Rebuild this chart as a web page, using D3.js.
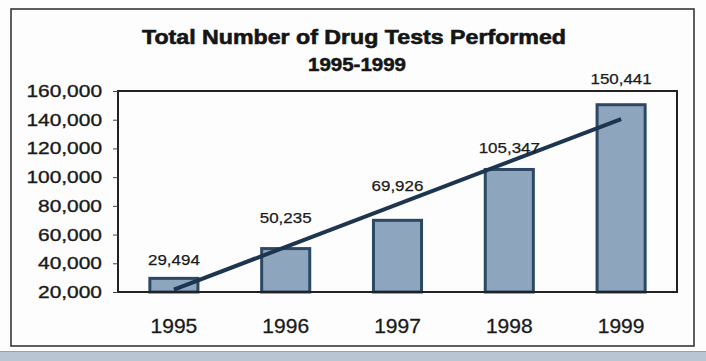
<!DOCTYPE html>
<html>
<head>
<meta charset="utf-8">
<script src="https://cdn.jsdelivr.net/npm/d3@7"></script>
<style>
  html, body { margin: 0; padding: 0; background: #ffffff; }
  svg { display: block; font-family: "Liberation Sans", Arial, sans-serif; }
</style>
</head>
<body>
<svg id="chart" width="706" height="361"></svg>
<script>
// Yearly totals of drug tests
const years = ["1995", "1996", "1997", "1998", "1999"];
const tests = [29494, 50235, 69926, 105347, 150441];
const yTicks = [20000, 40000, 60000, 80000, 100000, 120000, 140000, 160000];
const titleLines = ["Total Number of Drug Tests Performed", "1995-1999"];

// Layout: distance (px) between each bar top and its value label baseline
const labelGap = [13, 26, 29, 16, 21];

const svg = d3.select("#chart");
const plot = { left: 118, right: 677, top: 91, bottom: 292 };

const x = d3.scaleBand().domain(years).range([plot.left, plot.right]).paddingInner(0.57).paddingOuter(0.285);
const y = d3.scaleLinear().domain([20000, 160000]).range([plot.bottom, plot.top]);
const fmt = d3.format(",");

// Outer frame and the band beneath it
svg.append("rect").attr("x", 0).attr("y", 0).attr("width", 706).attr("height", 361).attr("fill", "#fdfdfd");
svg.append("rect").attr("x", 0).attr("y", 351).attr("width", 706).attr("height", 10).attr("fill", "#b7c6d2");
svg.append("line").attr("x1", 0).attr("x2", 706).attr("y1", 351.5).attr("y2", 351.5).attr("stroke", "#8fa3b4").attr("stroke-width", 1);
svg.append("rect").attr("x", 11).attr("y", 9).attr("width", 683).attr("height", 337)
  .attr("fill", "none").attr("stroke", "#2a2a2a").attr("stroke-width", 1.5);

// Title
svg.append("text").attr("x", 354).attr("y", 44).attr("text-anchor", "middle")
  .attr("font-size", 20).attr("font-weight", "bold").attr("fill", "#151515")
  .attr("stroke", "#151515").attr("stroke-width", 0.6)
  .attr("textLength", 424).attr("lengthAdjust", "spacingAndGlyphs").text(titleLines[0]);
svg.append("text").attr("x", 357).attr("y", 71).attr("text-anchor", "middle")
  .attr("font-size", 18).attr("font-weight", "bold").attr("fill", "#151515")
  .attr("stroke", "#151515").attr("stroke-width", 0.5)
  .attr("textLength", 98).attr("lengthAdjust", "spacingAndGlyphs").text(titleLines[1]);

// Plot area border
svg.append("rect").attr("x", plot.left).attr("y", plot.top)
  .attr("width", plot.right - plot.left).attr("height", plot.bottom - plot.top)
  .attr("fill", "none").attr("stroke", "#222").attr("stroke-width", 2);

// Y axis
const yAxis = svg.append("g").attr("transform", `translate(${plot.left},0)`)
  .call(d3.axisLeft(y).tickValues(yTicks).tickFormat(fmt).tickSize(5).tickPadding(11));
yAxis.select(".domain").remove();
yAxis.selectAll(".tick line").attr("stroke", "#444");
yAxis.selectAll(".tick text")
  .attr("font-size", 17).attr("fill", "#1a1a1a").attr("font-family", "Liberation Sans, Arial, sans-serif")
  .attr("stroke", "#1a1a1a").attr("stroke-width", 0.35)
  .each(function () {
    const w = this.getComputedTextLength();
    d3.select(this).attr("textLength", w * 1.23).attr("lengthAdjust", "spacingAndGlyphs");
  });

// X axis labels
const xAxis = svg.append("g").attr("transform", `translate(0,${plot.bottom})`)
  .call(d3.axisBottom(x).tickSize(0).tickPadding(26));
xAxis.select(".domain").remove();
xAxis.selectAll(".tick text").attr("font-size", 21).attr("fill", "#1a1a1a")
  .attr("stroke", "#1a1a1a").attr("stroke-width", 0.3)
  .attr("font-family", "Liberation Sans, Arial, sans-serif");

// Bars
svg.append("g").selectAll("rect").data(tests).join("rect")
  .attr("x", (d, i) => x(years[i]))
  .attr("y", d => y(d))
  .attr("width", x.bandwidth())
  .attr("height", d => plot.bottom - y(d))
  .attr("fill", "#8da5bd").attr("stroke", "#2d4864").attr("stroke-width", 3);

// Axis line redrawn over bar bases
svg.append("line").attr("x1", plot.left).attr("x2", plot.right)
  .attr("y1", plot.bottom).attr("y2", plot.bottom).attr("stroke", "#222").attr("stroke-width", 2);

// Linear trend line (least squares through the yearly totals)
const n = tests.length;
const idx = d3.range(n);
const mx = d3.mean(idx), my = d3.mean(tests);
const slope = d3.sum(idx, i => (i - mx) * (tests[i] - my)) / d3.sum(idx, i => (i - mx) ** 2);
const icpt = my - slope * mx;
const cx = i => x(years[i]) + x.bandwidth() / 2;
svg.append("line")
  .attr("x1", cx(0)).attr("y1", y(icpt))
  .attr("x2", cx(n - 1)).attr("y2", y(icpt + slope * (n - 1)))
  .attr("stroke", "#1e3550").attr("stroke-width", 4);

// Value labels
svg.append("g").selectAll("text").data(tests).join("text")
  .attr("x", (d, i) => cx(i))
  .attr("y", (d, i) => y(d) - labelGap[i])
  .attr("text-anchor", "middle").attr("font-size", 15).attr("fill", "#1a1a1a")
  .attr("stroke", "#1a1a1a").attr("stroke-width", 0.25)
  .text(d => fmt(d))
  .each(function () {
    const w = this.getComputedTextLength();
    d3.select(this).attr("textLength", w * 1.13).attr("lengthAdjust", "spacingAndGlyphs");
  });
</script>
</body>
</html>
